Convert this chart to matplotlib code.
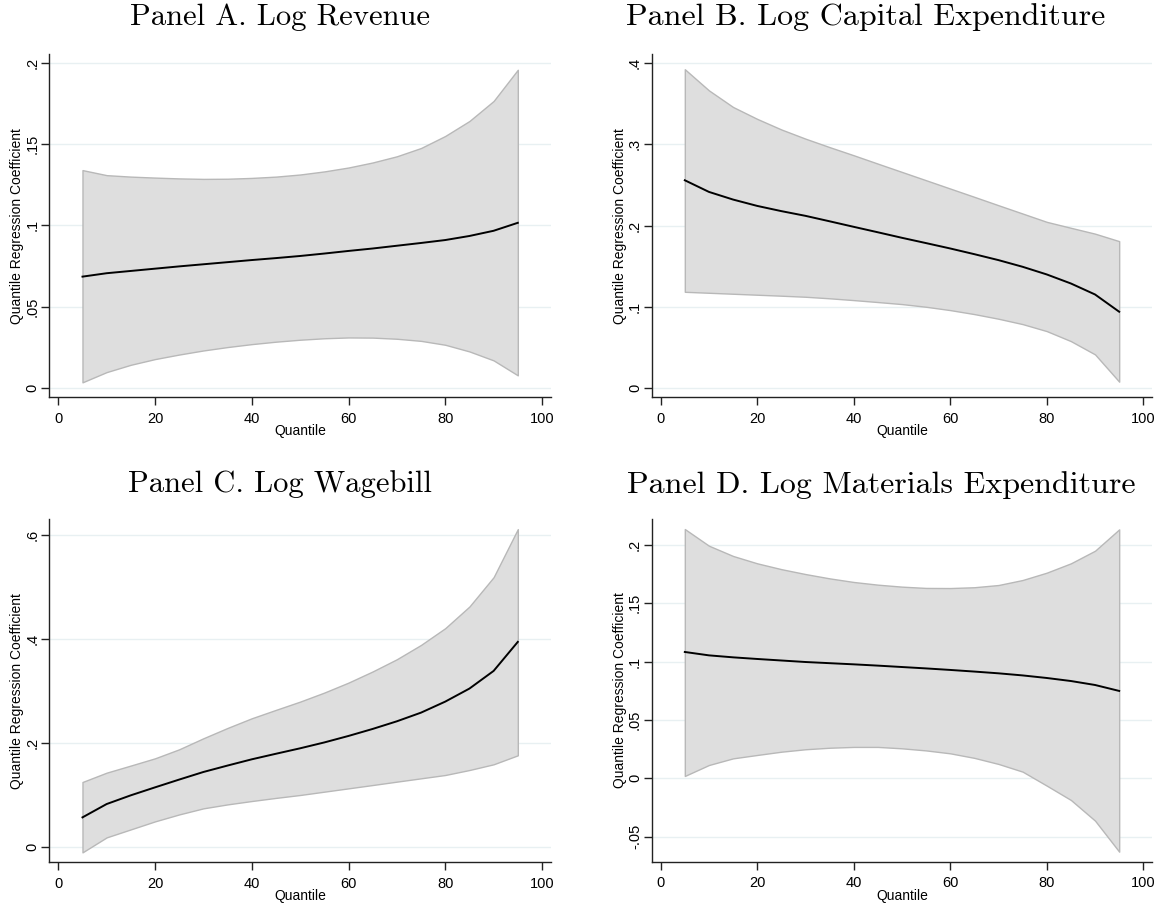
import matplotlib
matplotlib.use("Agg")
import matplotlib.pyplot as plt

# Quantiles at which the regressions were estimated
quantiles = [5, 10, 15, 20, 25, 30, 35, 40, 45, 50, 55, 60, 65, 70, 75, 80, 85, 90, 95]

# Panel A. Log Revenue
rev_coef = [0.0685, 0.0706, 0.0720, 0.0734, 0.0748, 0.0761, 0.0774, 0.0787, 0.0799, 0.0812,
            0.0827, 0.0843, 0.0858, 0.0875, 0.0892, 0.0910, 0.0935, 0.0967, 0.1016]
rev_hi = [0.1340, 0.1309, 0.1300, 0.1294, 0.1289, 0.1286, 0.1287, 0.1292, 0.1300, 0.1313,
          0.1332, 0.1356, 0.1387, 0.1425, 0.1476, 0.1550, 0.1642, 0.1765, 0.1957]
rev_lo = [0.0035, 0.0098, 0.0143, 0.0178, 0.0206, 0.0231, 0.0252, 0.0270, 0.0285, 0.0297,
          0.0306, 0.0311, 0.0310, 0.0303, 0.0290, 0.0266, 0.0225, 0.0170, 0.0078]

# Panel B. Log Capital Expenditure
cap_coef = [0.2556, 0.2413, 0.2319, 0.2241, 0.2177, 0.2119, 0.2052, 0.1984, 0.1917, 0.1849,
            0.1784, 0.1718, 0.1648, 0.1575, 0.1493, 0.1399, 0.1288, 0.1153, 0.0941]
cap_hi = [0.3920, 0.3660, 0.3456, 0.3310, 0.3180, 0.3067, 0.2963, 0.2863, 0.2760, 0.2658,
          0.2556, 0.2454, 0.2352, 0.2249, 0.2147, 0.2045, 0.1972, 0.1900, 0.1808]
cap_lo = [0.1186, 0.1174, 0.1162, 0.1150, 0.1138, 0.1125, 0.1106, 0.1084, 0.1060, 0.1035,
          0.1002, 0.0961, 0.0912, 0.0855, 0.0789, 0.0703, 0.0580, 0.0417, 0.0082]

# Panel C. Log Wagebill
wage_coef = [0.0565, 0.0822, 0.0990, 0.1143, 0.1293, 0.1439, 0.1563, 0.1683, 0.1790, 0.1895,
             0.2008, 0.2133, 0.2268, 0.2415, 0.2582, 0.2794, 0.3045, 0.3385, 0.3944]
wage_hi = [0.1246, 0.1426, 0.1563, 0.1702, 0.1876, 0.2088, 0.2287, 0.2473, 0.2635, 0.2794,
           0.2968, 0.3160, 0.3375, 0.3610, 0.3886, 0.4208, 0.4625, 0.5190, 0.6115]
wage_lo = [-0.0109, 0.0180, 0.0334, 0.0488, 0.0622, 0.0739, 0.0815, 0.0880, 0.0940, 0.0996,
           0.1060, 0.1124, 0.1188, 0.1253, 0.1317, 0.1381, 0.1477, 0.1587, 0.1760]

# Panel D. Log Materials Expenditure
mat_coef = [0.1083, 0.1054, 0.1037, 0.1023, 0.1010, 0.0997, 0.0987, 0.0977, 0.0966, 0.0954,
            0.0942, 0.0929, 0.0915, 0.0900, 0.0882, 0.0860, 0.0834, 0.0800, 0.0749]
mat_hi = [0.2137, 0.1994, 0.1906, 0.1843, 0.1793, 0.1751, 0.1714, 0.1683, 0.1660, 0.1643,
          0.1632, 0.1631, 0.1638, 0.1657, 0.1700, 0.1763, 0.1843, 0.1951, 0.2134]
mat_lo = [0.0020, 0.0114, 0.0171, 0.0200, 0.0228, 0.0249, 0.0262, 0.0269, 0.0269, 0.0257,
          0.0239, 0.0214, 0.0175, 0.0123, 0.0057, -0.0063, -0.0186, -0.0363, -0.0629]

titles = ["Panel A. Log Revenue", "Panel B. Log Capital Expenditure",
          "Panel C. Log Wagebill", "Panel D. Log Materials Expenditure"]

x_ticks = [0, 20, 40, 60, 80, 100]
x_labels = ["0", "20", "40", "60", "80", "100"]

rev_yticks = [0, 0.05, 0.1, 0.15, 0.2]
rev_ylabels = ["0", ".05", ".1", ".15", ".2"]
cap_yticks = [0, 0.1, 0.2, 0.3, 0.4]
cap_ylabels = ["0", ".1", ".2", ".3", ".4"]
wage_yticks = [0, 0.2, 0.4, 0.6]
wage_ylabels = ["0", ".2", ".4", ".6"]
mat_yticks = [-0.05, 0, 0.05, 0.1, 0.15, 0.2]
mat_ylabels = ["-.05", "0", ".05", ".1", ".15", ".2"]

panels = [
    (rev_coef, rev_lo, rev_hi, rev_yticks, rev_ylabels, (-0.0057, 0.2054)),
    (cap_coef, cap_lo, cap_hi, cap_yticks, cap_ylabels, (-0.0110, 0.4107)),
    (wage_coef, wage_lo, wage_hi, wage_yticks, wage_ylabels, (-0.030, 0.631)),
    (mat_coef, mat_lo, mat_hi, mat_yticks, mat_ylabels, (-0.0715, 0.2223)),
]

W, H = 1162, 905
fig = plt.figure(figsize=(W / 100, H / 100), dpi=100)
fig.patch.set_facecolor("white")

# axes boxes in pixels: (left, top, right, bottom)
boxes = [(49.3, 54, 550.7, 397.3), (651.7, 54, 1152, 397.3),
         (49.3, 519, 550.7, 862.3), (651.7, 519, 1152, 861.7)]
# title centre x, baseline y (pixels) and size
title_pos = [(280, 25, 22), (866, 25, 23), (280, 492, 22), (881, 493, 23)]

sans = "Liberation Sans"

for (coef, lo, hi, yt, yl, ylim), (l, t, r, b), title, (tx, ty, ts) in zip(panels, boxes, titles, title_pos):
    ax = fig.add_axes([l / W, 1 - b / H, (r - l) / W, (b - t) / H])
    ax.fill_between(quantiles, lo, hi, facecolor="#dedede", edgecolor="#b8b8b8",
                    linewidth=1.0, zorder=2)
    ax.plot(quantiles, coef, color="black", linewidth=1.4, zorder=3)
    ax.set_xlim(-1.86, 101.8)
    ax.set_ylim(*ylim)
    ax.set_xticks(x_ticks)
    ax.set_xticklabels(x_labels, fontfamily=sans, fontsize=10.5)
    ax.set_yticks(yt)
    ax.set_yticklabels(yl, fontfamily=sans, fontsize=10.5, rotation=90, va="center")
    ax.grid(axis="y", color="#e8f0f2", linewidth=1.0, zorder=0)
    ax.set_axisbelow(True)
    for side in ("top", "right"):
        ax.spines[side].set_visible(False)
    for side in ("left", "bottom"):
        ax.spines[side].set_color("#222222")
        ax.spines[side].set_linewidth(1.0)
    ax.tick_params(direction="out", length=5.5, width=1.0, color="#222222")
    ax.tick_params(axis="x", pad=5)
    ax.tick_params(axis="y", pad=1.5)
    ax.set_xlabel("Quantile", fontfamily=sans, fontsize=10, labelpad=-1)
    ax.set_ylabel("Quantile Regression Coefficient", fontfamily=sans, fontsize=10, labelpad=1)
    fig.text(tx / W, 1 - ty / H, title, fontfamily="cmr10", fontsize=ts,
             ha="center", va="baseline")

fig.savefig("out.png", dpi=100, facecolor="white")
